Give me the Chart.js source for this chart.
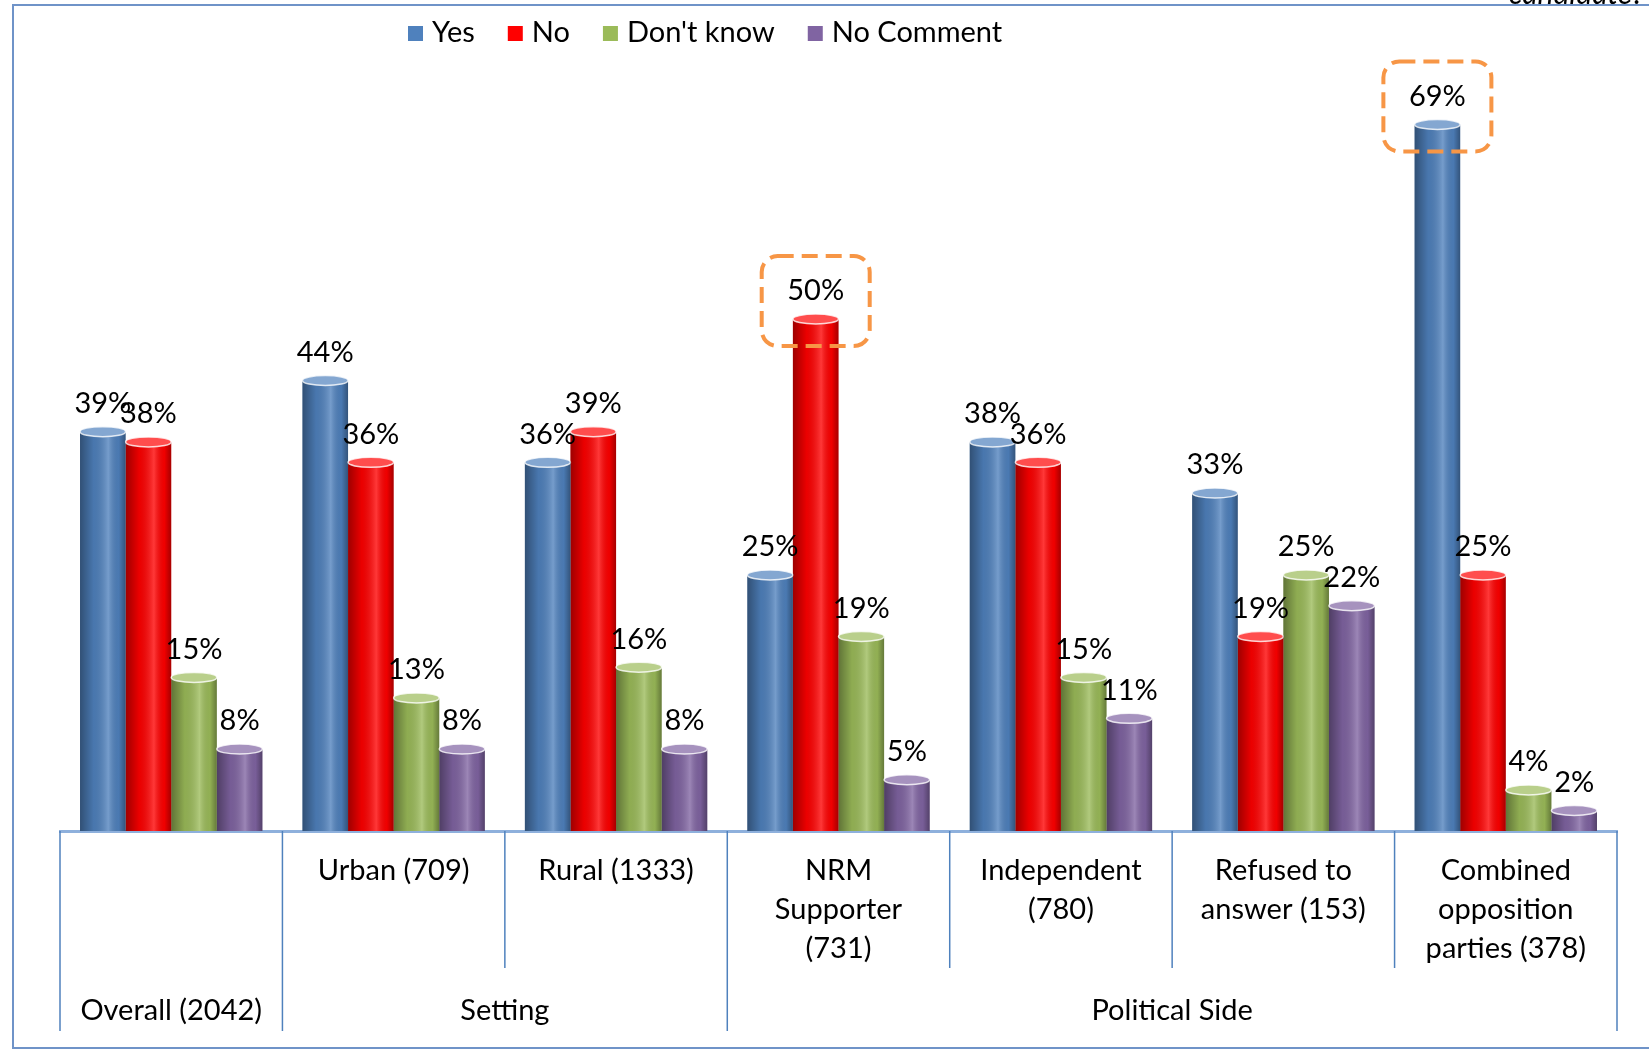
<!DOCTYPE html>
<html>
<head>
<meta charset="utf-8">
<script src="https://cdn.jsdelivr.net/npm/chart.js@4.4.1/dist/chart.umd.min.js"></script>
<style>
    html, body { margin: 0; padding: 0; background: #fff; }
    #wrap { width: 1649px; height: 1051px; position: relative; }
</style>
</head>
<body>
<div id="wrap"><canvas id="surveyChart"></canvas></div>
<script>
// Chart data
const categories = ['', 'Urban (709)', 'Rural (1333)', ['NRM', 'Supporter', '(731)'],
    ['Independent', '(780)'], ['Refused to', 'answer (153)'], ['Combined', 'opposition', 'parties (378)']];
const yesValues = [39, 44, 36, 25, 38, 33, 69];
const noValues = [38, 36, 39, 50, 36, 19, 25];
const dontKnowValues = [15, 13, 16, 19, 15, 25, 4];
const noCommentValues = [8, 8, 8, 5, 11, 22, 2];
const seriesLabels = ['Yes', 'No', "Don't know", 'No Comment'];
const seriesColors = ['#4f81bd', '#ff0000', '#9bbb59', '#8064a2'];
const groupLabels = ['Overall (2042)', 'Setting', 'Political Side'];
const groupFirst = [0, 1, 3];
const groupLast = [0, 2, 6];
const highlighted = [[1, 3], [0, 6]]; // [series, category]

const FONT = 'Lato, "Open Sans", sans-serif';
const FONT_SIZE = 29;

// frame + cut-off question text at the top
const framePlugin = {
    id: 'frame',
    beforeDraw(chart) {
        const ctx = chart.ctx;
        ctx.save();
        ctx.fillStyle = '#fff';
        ctx.fillRect(0, 0, chart.width, chart.height);
        ctx.strokeStyle = '#6f93c8';
        ctx.lineWidth = 2;
        ctx.strokeRect(13, 5, chart.width + 20, 1043);
        ctx.fillStyle = '#000';
        ctx.font = 'italic 30px ' + FONT;
        ctx.textAlign = 'right';
        ctx.textBaseline = 'alphabetic';
        ctx.fillText('candidate?', 1644, 4);
        ctx.restore();
    }
};

// cylinder shading, value labels and the dashed highlight boxes
const barsPlugin = {
    id: 'bars',
    afterDatasetsDraw(chart) {
        const ctx = chart.ctx;
        ctx.save();
        chart.data.datasets.forEach((ds, d) => {
            const meta = chart.getDatasetMeta(d);
            meta.data.forEach((el, i) => {
                const p = el.getProps(['x', 'y', 'base', 'width'], true);
                const left = p.x - p.width / 2;
                const g = ctx.createLinearGradient(left, 0, left + p.width, 0);
                g.addColorStop(0, 'rgba(0,0,0,0.38)');
                g.addColorStop(0.3, 'rgba(0,0,0,0.08)');
                g.addColorStop(0.62, 'rgba(255,255,255,0.22)');
                g.addColorStop(0.85, 'rgba(0,0,0,0.06)');
                g.addColorStop(1, 'rgba(0,0,0,0.35)');
                ctx.fillStyle = g;
                ctx.fillRect(left, p.y, p.width, p.base - p.y);
                // top cap
                ctx.beginPath();
                ctx.ellipse(p.x, p.y, p.width / 2, 5, 0, 0, Math.PI * 2);
                ctx.fillStyle = ds.backgroundColor;
                ctx.fill();
                ctx.fillStyle = 'rgba(255,255,255,0.3)';
                ctx.fill();
                ctx.strokeStyle = 'rgba(255,255,255,0.8)';
                ctx.lineWidth = 1.5;
                ctx.stroke();
                // value label
                ctx.fillStyle = '#000';
                ctx.font = FONT_SIZE + 'px ' + FONT;
                ctx.textAlign = 'center';
                ctx.textBaseline = 'middle';
                ctx.fillText(ds.data[i] + '%', p.x, p.y - 28);
            });
        });
        highlighted.forEach(([d, i]) => {
            const el = chart.getDatasetMeta(d).data[i];
            const ly = el.y - 28;
            ctx.beginPath();
            ctx.roundRect(el.x - 54, ly - 35, 108, 90, 16);
            ctx.setLineDash([16, 8]);
            ctx.lineWidth = 4;
            ctx.strokeStyle = '#f79646';
            ctx.stroke();
        });
        ctx.restore();
    },
    afterDraw(chart) {
        const ctx = chart.ctx;
        const xs = chart.scales.x;
        const step = xs.getPixelForValue(1) - xs.getPixelForValue(0);
        const base = chart.chartArea.bottom;
        ctx.save();
        // divider lines under the axis
        ctx.strokeStyle = '#4f81bd';
        ctx.lineWidth = 1.5;
        for (let k = 0; k <= categories.length; k++) {
            const x = xs.getPixelForValue(0) - step / 2 + k * step;
            const long = groupFirst.includes(k) || k === categories.length;
            ctx.beginPath();
            ctx.moveTo(x, base);
            ctx.lineTo(x, long ? 1031 : 968);
            ctx.stroke();
        }
        // group labels
        ctx.fillStyle = '#000';
        ctx.font = FONT_SIZE + 'px ' + FONT;
        ctx.textAlign = 'center';
        ctx.textBaseline = 'middle';
        groupLabels.forEach((lbl, g) => {
            const x = (xs.getPixelForValue(groupFirst[g]) + xs.getPixelForValue(groupLast[g])) / 2;
            ctx.fillText(lbl, x, 1011);
        });
        // legend
        let lx = 408;
        const ly = 33;
        ctx.textAlign = 'left';
        seriesLabels.forEach((lbl, s) => {
            ctx.fillStyle = seriesColors[s];
            ctx.fillRect(lx, ly - 7, 15, 15);
            lx += 24;
            ctx.fillStyle = '#000';
            ctx.fillText(lbl, lx, ly);
            lx += ctx.measureText(lbl).width + 33;
        });
        ctx.restore();
    }
};

const seriesValues = [yesValues, noValues, dontKnowValues, noCommentValues];

document.addEventListener('DOMContentLoaded', function() {
    const ctx = document.getElementById('surveyChart').getContext('2d');
    new Chart(ctx, {
        type: 'bar',
        data: {
            labels: categories,
            datasets: seriesLabels.map((lbl, s) => ({
                label: lbl,
                data: seriesValues[s],
                backgroundColor: seriesColors[s],
                borderWidth: 0,
                barPercentage: 1.0,
                categoryPercentage: 0.82
            }))
        },
        options: {
            responsive: true,
            maintainAspectRatio: false,
            animation: false,
            devicePixelRatio: 1,
            layout: {
                padding: { left: 60, right: 32, top: 63, bottom: 0 }
            },
            scales: {
                x: {
                    offset: true,
                    grid: { display: false },
                    border: { display: true, color: '#8eb0dc', width: 3 },
                    ticks: {
                        color: '#000',
                        padding: 12,
                        autoSkip: false,
                        maxRotation: 0,
                        font: { family: FONT, size: FONT_SIZE, lineHeight: '39px' }
                    },
                    afterFit: function(scale) {
                        scale.height = 220;
                    }
                },
                y: {
                    display: false,
                    min: 0,
                    max: 75
                }
            },
            plugins: {
                legend: { display: false },
                tooltip: { enabled: false }
            }
        },
        plugins: [framePlugin, barsPlugin]
    });
});
</script>
</body>
</html>
